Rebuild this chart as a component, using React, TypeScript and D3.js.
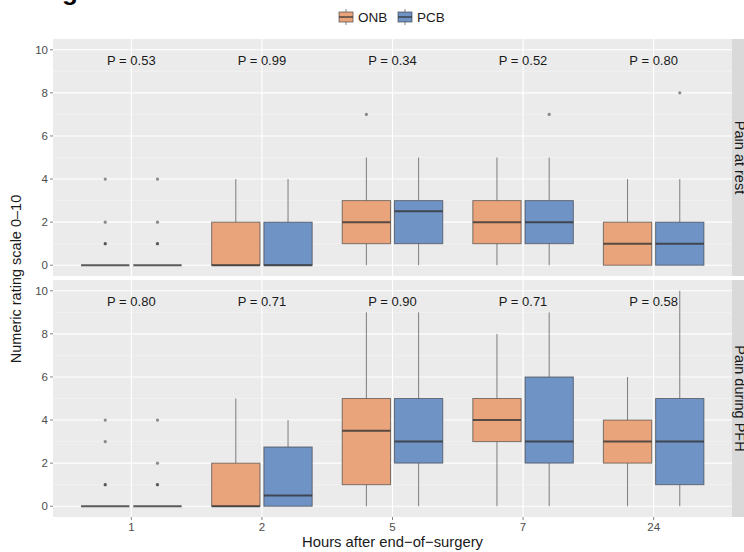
import * as d3 from "d3";

const hours = ["1", "2", "5", "7", "24"];
const groups = ["ONB", "PCB"];
const facets = ["Pain at rest", "Pain during PFH"];
const pValues = [
  ["0.53", "0.99", "0.34", "0.52", "0.80"],
  ["0.80", "0.71", "0.90", "0.71", "0.58"],
];

// [lower whisker, q1, median, q3, upper whisker] per hour
const restONB = [[0, 0, 0, 0, 0], [0, 0, 0, 2, 4], [0, 1, 2, 3, 5], [0, 1, 2, 3, 5], [0, 0, 1, 2, 4]];
const restPCB = [[0, 0, 0, 0, 0], [0, 0, 0, 2, 4], [0, 1, 2.5, 3, 5], [0, 1, 2, 3, 5], [0, 0, 1, 2, 4]];
const pfhONB = [[0, 0, 0, 0, 0], [0, 0, 0, 2, 5], [0, 1, 3.5, 5, 9], [0, 3, 4, 5, 8], [0, 2, 3, 4, 6]];
const pfhPCB = [[0, 0, 0, 0, 0], [0, 0, 0.5, 2.75, 4], [0, 2, 3, 5, 9], [0, 2, 3, 6, 9], [0, 1, 3, 5, 10]];

const restONBOut = [[1, 1, 2, 4], [], [7], [], []];
const restPCBOut = [[1, 1, 2, 4], [], [], [7], [8]];
const pfhONBOut = [[1, 1, 3, 4], [], [], [], []];
const pfhPCBOut = [[1, 1, 2, 4], [], [], [], []];

const stats = [
  [restONB, restPCB],
  [pfhONB, pfhPCB],
];
const outliers = [
  [restONBOut, restPCBOut],
  [pfhONBOut, pfhPCBOut],
];

const fills = ["#E9A47C", "#7093C5"];
const font = "'Liberation Sans', Arial, Helvetica, sans-serif";

const W = 744;
const H = 552;
const left = 53;
const right = 732;
const panelTops = [39, 280];
const panelH = 237;

export default function App() {
  const x = d3.scalePoint<string>().domain(hours).range([left, right]).padding(0.6);
  const step = x.step();
  const dodge = d3.scaleOrdinal<string, number>().domain(groups).range([-0.2 * step, 0.2 * step]);
  const boxW = 0.37 * step;
  const yTicks = d3.range(0, 11, 2);
  const yMinor = d3.range(1, 10, 2);

  return (
    <svg width={W} height={H} style={{ position: "absolute", left: 0, top: 0, background: "#fff" }} fontFamily={font}>
      <text x={62} y={0} fontSize={26} fontWeight="bold" fill="#000">g</text>

      {/* legend */}
      {groups.map((g, i) => {
        const kx = 338 + i * 59;
        return (
          <g key={g}>
            <line x1={kx + 8} x2={kx + 8} y1={9} y2={25} stroke="#333" strokeOpacity={0.6} />
            <rect x={kx + 1} y={12} width={14} height={10} fill={fills[i]} stroke="#333" strokeOpacity={0.6} />
            <line x1={kx + 1} x2={kx + 15} y1={17} y2={17} stroke="#333" strokeOpacity={0.85} strokeWidth={1.5} />
            <text x={kx + 20} y={22} fontSize={13.5} fill="#1a1a1a">{g}</text>
          </g>
        );
      })}

      {facets.map((f, fi) => {
        const top = panelTops[fi];
        const y = d3.scaleLinear().domain([-0.5, 10.5]).range([top + panelH, top]);
        return (
          <g key={f}>
            <rect x={left} y={top} width={right - left} height={panelH} fill="#EBEBEB" />
            {yMinor.map((v) => (
              <line key={"m" + v} x1={left} x2={right} y1={y(v)} y2={y(v)} stroke="#F5F5F5" strokeWidth={0.6} />
            ))}
            {yTicks.map((v) => (
              <line key={"M" + v} x1={left} x2={right} y1={y(v)} y2={y(v)} stroke="#fff" strokeWidth={1.1} />
            ))}
            {hours.map((h) => (
              <line key={"v" + h} x1={x(h)} x2={x(h)} y1={top} y2={top + panelH} stroke="#fff" strokeWidth={1.1} />
            ))}
            {/* y axis */}
            {yTicks.map((v) => (
              <g key={"t" + v}>
                <line x1={left - 3} x2={left} y1={y(v)} y2={y(v)} stroke="#333" strokeOpacity={0.6} />
                <text x={left - 5} y={y(v)} dy="0.35em" textAnchor="end" fontSize={11.5} fill="#4D4D4D">{v}</text>
              </g>
            ))}
            {/* strip */}
            <rect x={right} y={top} width={20} height={panelH} fill="#D9D9D9" />
            <text
              transform={`translate(${right + 3},${top + panelH / 2}) rotate(90)`}
              textAnchor="middle"
              fontSize={14.5}
              fill="#1A1A1A"
            >
              {f}
            </text>

            {groups.map((g, gi) =>
              hours.map((h, hi) => {
                const [lo, q1, med, q3, hi2] = stats[fi][gi][hi];
                const cx = (x(h) as number) + dodge(g);
                return (
                  <g key={g + h}>
                    <line x1={cx} x2={cx} y1={y(q3)} y2={y(hi2)} stroke="#333" strokeOpacity={0.6} />
                    <line x1={cx} x2={cx} y1={y(q1)} y2={y(lo)} stroke="#333" strokeOpacity={0.6} />
                    <rect
                      x={cx - boxW / 2}
                      y={y(q3)}
                      width={boxW}
                      height={y(q1) - y(q3)}
                      fill={fills[gi]}
                      stroke="#333"
                      strokeOpacity={0.6}
                    />
                    <line x1={cx - boxW / 2} x2={cx + boxW / 2} y1={y(med)} y2={y(med)} stroke="#333" strokeOpacity={0.8} strokeWidth={2} />
                    {outliers[fi][gi][hi].map((o, oi) => (
                      <circle key={oi} cx={cx} cy={y(o)} r={1.6} fill="#333" fillOpacity={0.55} />
                    ))}
                  </g>
                );
              })
            )}

            {hours.map((h, hi) => (
              <text key={"p" + h} x={x(h)} y={y(9.5)} dy="0.35em" textAnchor="middle" fontSize={13} fill="#1a1a1a">
                P = {pValues[fi][hi]}
              </text>
            ))}
          </g>
        );
      })}

      {/* x axis */}
      {hours.map((h) => (
        <g key={"x" + h}>
          <line x1={x(h)} x2={x(h)} y1={517} y2={520} stroke="#333" strokeOpacity={0.6} />
          <text x={x(h)} y={527} dy="0.35em" textAnchor="middle" fontSize={11.5} fill="#4D4D4D">{h}</text>
        </g>
      ))}
      <text x={(left + right) / 2} y={547} textAnchor="middle" fontSize={14.8} fill="#1a1a1a">
        Hours after end−of−surgery
      </text>
      <text transform={`translate(21,279) rotate(-90)`} textAnchor="middle" fontSize={14.5} fill="#1a1a1a">
        Numeric rating scale 0–10
      </text>
    </svg>
  );
}
